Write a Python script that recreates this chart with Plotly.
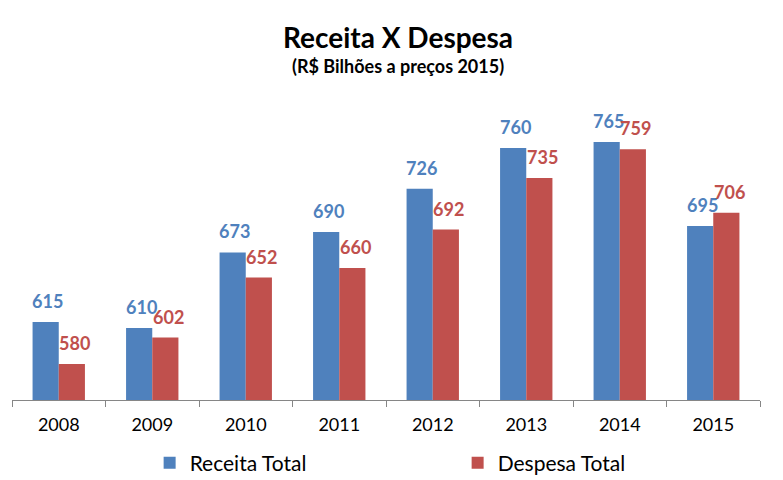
import plotly.graph_objects as go

years = ["2008", "2009", "2010", "2011", "2012", "2013", "2014", "2015"]
receita = [615, 610, 673, 690, 726, 760, 765, 695]
despesa = [580, 602, 652, 660, 692, 735, 759, 706]

BLUE = "#4F81BD"
RED = "#C0504D"
FONT = "Lato"

fig = go.Figure()
fig.add_trace(go.Bar(x=years, y=receita, name="Receita Total", marker_color=BLUE,
                     marker_line_width=0))
fig.add_trace(go.Bar(x=years, y=despesa, name="Despesa Total", marker_color=RED,
                     marker_line_width=0))

# value labels above each bar (x given as category index)
for i, v in enumerate(receita):
    fig.add_annotation(x=i, y=v, xref="x", yref="y", xshift=-11, yshift=8,
                       yanchor="bottom", text=f"<b>{v}</b>", showarrow=False,
                       font=dict(family=FONT, size=18, color=BLUE))
for i, v in enumerate(despesa):
    fig.add_annotation(x=i, y=v, xref="x", yref="y", xshift=16, yshift=8,
                       yanchor="bottom", text=f"<b>{v}</b>", showarrow=False,
                       font=dict(family=FONT, size=18, color=RED))

fig.update_layout(
    width=783, height=480,
    margin=dict(l=4, r=31, t=92, b=88),
    paper_bgcolor="white", plot_bgcolor="white",
    barmode="group", bargap=0.44, bargroupgap=0,
    font=dict(family=FONT, color="#000000"),
    showlegend=True,
    legend=dict(orientation="h", x=0.184, xanchor="left", y=-0.21, yanchor="middle",
                font=dict(family=FONT, size=21, color="#000000"),
                entrywidth=263, itemwidth=30),
)
fig.add_annotation(text="<b>Receita X Despesa</b>", xref="paper", yref="paper",
                   x=0.516, y=1.0, yshift=63, yanchor="middle", showarrow=False,
                   font=dict(family=FONT, size=28, color="#000000"))
fig.add_annotation(text="<b>(R$ Bilhões a preços 2015)</b>", xref="paper", yref="paper",
                   x=0.516, y=1.0, yshift=34, yanchor="middle", showarrow=False,
                   font=dict(family=FONT, size=18, color="#000000"))

fig.update_xaxes(type="category", range=[-0.5, 7.5], showline=True,
                 linecolor="#868686", linewidth=1,
                 ticks="outside", tickson="boundaries", ticklen=6, tickcolor="#868686",
                 ticklabelstandoff=8,
                 tickfont=dict(family=FONT, size=18, color="#000000"), showgrid=False)
fig.update_yaxes(range=[550, 800], visible=False, showgrid=False)

fig.write_html("out.html")
